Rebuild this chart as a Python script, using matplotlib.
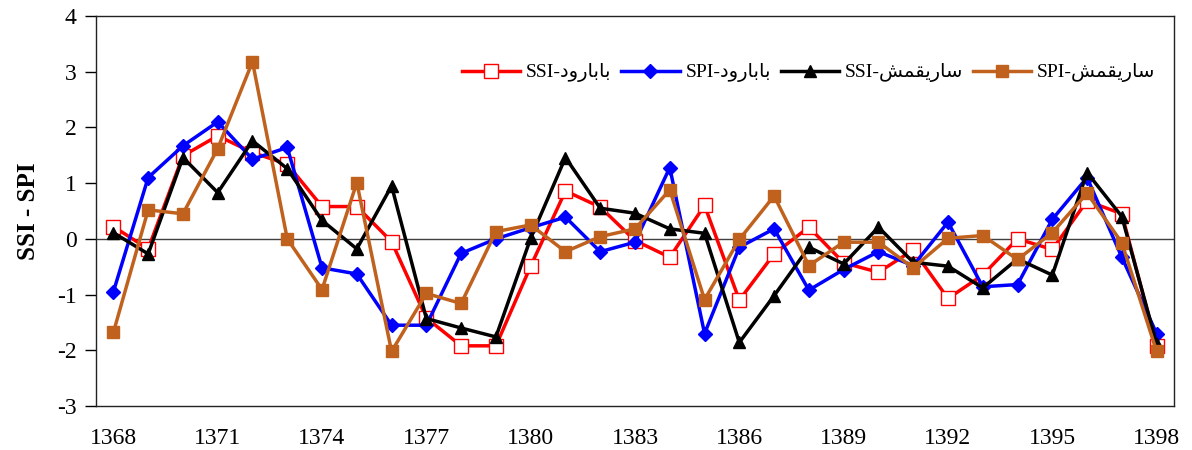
import numpy as np
import matplotlib
matplotlib.use('Agg')
import matplotlib.pyplot as plt

# Data
years = list(range(1368, 1399))

ssi_babarood = [0.22, -0.18, 1.49, 1.85, 1.55, 1.34, 0.58, 0.58, -0.05, -1.42,
                -1.92, -1.92, -0.49, 0.86, 0.57, -0.03, -0.33, 0.60, -1.10, -0.27,
                0.21, -0.43, -0.60, -0.20, -1.07, -0.65, 0.00, -0.19, 0.68, 0.45, -1.93]
spi_babarood = [-0.95, 1.10, 1.67, 2.10, 1.43, 1.64, -0.52, -0.63, -1.55, -1.55,
                -0.26, 0.00, 0.20, 0.39, -0.23, -0.06, 1.28, -1.70, -0.15, 0.18,
                -0.92, -0.55, -0.23, -0.48, 0.30, -0.86, -0.82, 0.35, 1.10, -0.33, -1.70]
ssi_sariqamish = [0.11, -0.27, 1.46, 0.83, 1.76, 1.26, 0.33, -0.18, 0.95, -1.43,
                  -1.60, -1.76, 0.01, 1.46, 0.55, 0.46, 0.18, 0.10, -1.86, -1.02,
                  -0.15, -0.45, 0.21, -0.42, -0.49, -0.88, -0.36, -0.65, 1.19, 0.40, -1.88]
spi_sariqamish = [-1.68, 0.52, 0.45, 1.62, 3.18, 0.00, -0.91, 1.01, -2.02, -0.98,
                  -1.16, 0.13, 0.25, -0.23, 0.04, 0.18, 0.88, -1.09, -0.01, 0.77,
                  -0.48, -0.06, -0.06, -0.52, 0.01, 0.06, -0.37, 0.11, 0.82, -0.07, -2.02]

# Persian names, pre-shaped (presentation forms, visual order)
babarood = '\uFEA9\uFEED\uFEAD\uFE8E\uFE91\uFE8E\uFE91'
sariqamish = '\uFEB6\uFEE4\uFED8\uFEF3\uFEAD\uFE8E\uFEB3'
labels = ['SSI-' + babarood, 'SPI-' + babarood, 'SSI-' + sariqamish, 'SPI-' + sariqamish]

plt.rcParams['font.family'] = ['Liberation Serif', 'DejaVu Sans']
plt.rcParams['axes.unicode_minus'] = False

fig = plt.figure(figsize=(11.92, 4.5), dpi=100)
ax = fig.add_axes([96/1192, 44/450, (1174-96)/1192, (406-16)/450])

ax.axhline(0, color='#404040', lw=1, zorder=1)

ax.plot(years, ssi_babarood, '-s', color='#ff0000', lw=2.5, ms=10,
        mfc='white', mec='#ff0000', mew=1.0, label=labels[0], zorder=3)
ax.plot(years, spi_babarood, '-D', color='#0000ff', lw=2.5, ms=7,
        mfc='#0000ff', mec='#0000ff', label=labels[1], zorder=3)
ax.plot(years, ssi_sariqamish, '-^', color='black', lw=2.5, ms=9,
        label=labels[2], zorder=3)
ax.plot(years, spi_sariqamish, '-s', color='#c0621e', lw=2.5, ms=9,
        mfc='#c0621e', mec='#c0621e', label=labels[3], zorder=3)

ax.set_xlim(1367.5, 1398.5)
ax.set_ylim(-3, 4)
ax.set_yticks(range(-3, 5))
ax.set_xticks(years[::3])
ax.tick_params(axis='x', length=0, labelsize=17, pad=16)
ax.tick_params(axis='y', direction='out', length=8, width=1, labelsize=17, pad=6)
for s in ax.spines.values():
    s.set_linewidth(1)
    s.set_color('#222222')

ax.set_ylabel('SSI - SPI', fontsize=18, fontweight='bold', labelpad=12)

ax.legend(loc='center right', bbox_to_anchor=(0.99, 0.854), ncol=4, frameon=False,
          fontsize=14, handlelength=3.0, columnspacing=0.5, handletextpad=0.3,
          borderaxespad=0)

fig.savefig('out.png', dpi=100)
